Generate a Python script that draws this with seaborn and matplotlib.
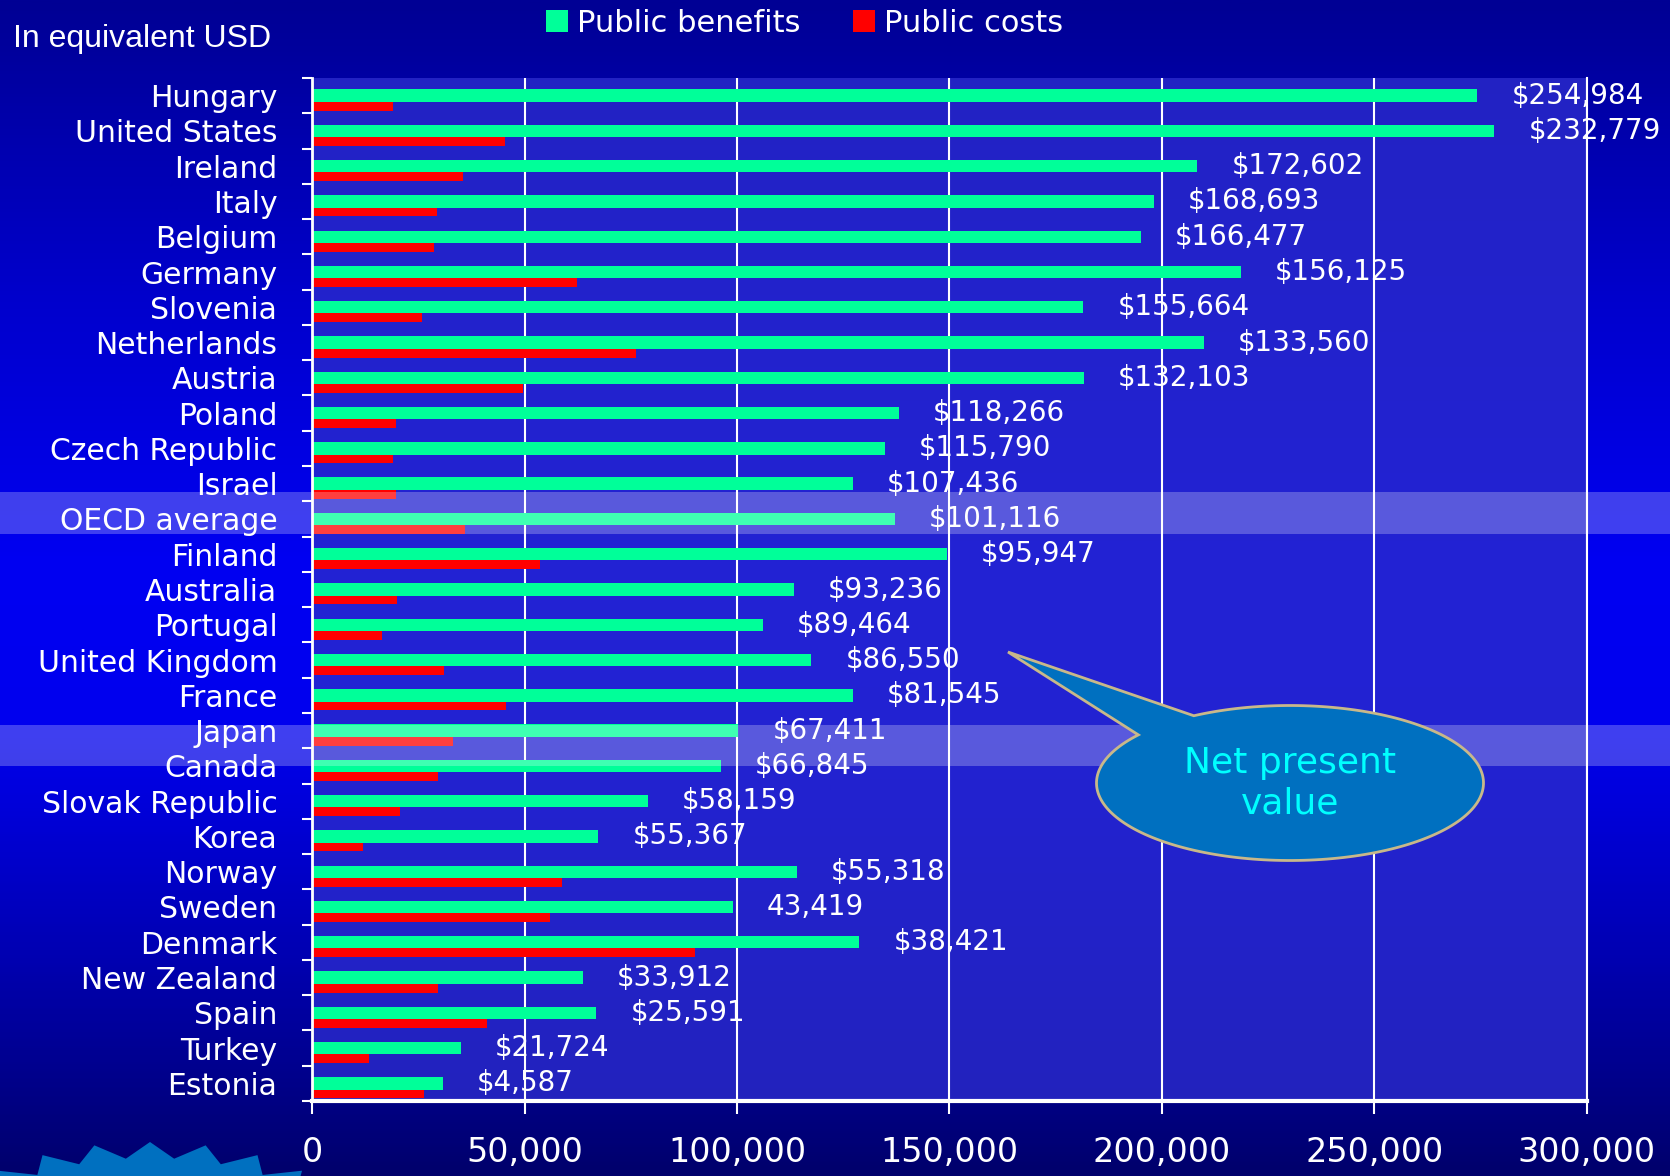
import numpy as np
import pandas as pd
import matplotlib.pyplot as plt
import seaborn as sns
from matplotlib.colors import LinearSegmentedColormap
from matplotlib.patches import Patch, Polygon, Rectangle
from matplotlib.transforms import blended_transform_factory

# values (USD)
countries = ["Hungary", "United States", "Ireland", "Italy", "Belgium", "Germany",
             "Slovenia", "Netherlands", "Austria", "Poland", "Czech Republic", "Israel",
             "OECD average", "Finland", "Australia", "Portugal", "United Kingdom", "France",
             "Japan", "Canada", "Slovak Republic", "Korea", "Norway", "Sweden", "Denmark",
             "New Zealand", "Spain", "Turkey", "Estonia"]
benefits = [274200, 278200, 208300, 198000, 195000, 218500, 181500, 209800, 181700,
            138100, 134800, 127300, 137100, 149400, 113300, 106000, 117500, 127300,
            100300, 96200, 79000, 67400, 114000, 99000, 128800, 63700, 66900, 35100, 30800]
costs = [19000, 45400, 35600, 29300, 28600, 62400, 25800, 76200, 49600, 19800, 19000,
         19800, 36100, 53600, 20000, 16500, 31100, 45600, 33100, 29600, 20800, 12000,
         58900, 56100, 90200, 29600, 41100, 13300, 26300]
npv_labels = ["$254,984", "$232,779", "$172,602", "$168,693", "$166,477", "$156,125",
              "$155,664", "$133,560", "$132,103", "$118,266", "$115,790", "$107,436",
              "$101,116", "$95,947", "$93,236", "$89,464", "$86,550", "$81,545",
              "$67,411", "$66,845", "$58,159", "$55,367", "$55,318", "43,419",
              "$38,421", "$33,912", "$25,591", "$21,724", "$4,587"]
highlight = {"OECD average": -0.75, "Japan": -0.17}

x_ticks = [0, 50000, 100000, 150000, 200000, 250000, 300000]

GREEN = "#00FF99"
RED = "#FF0000"

df = pd.DataFrame({"country": countries, "benefits": benefits, "costs": costs})
df["pos"] = np.arange(len(df))
df["pos_cost"] = df["pos"] + 0.30

sns.set_theme(style="white")
plt.rcParams["font.family"] = ["DejaVu Sans"]

W, H = 1670, 1176
fig = plt.figure(figsize=(W / 100, H / 100), dpi=100)

# slide background gradient
bg = fig.add_axes([0, 0, 1, 1], zorder=-10)
bg.axis("off")
cmap = LinearSegmentedColormap.from_list("slide", [
    (0.0, "#000094"), (0.25, "#0000CC"), (0.48, "#0000F2"),
    (0.62, "#0000EE"), (0.82, "#0000B0"), (1.0, "#00006C")])
bg.imshow(np.linspace(0, 1, 400).reshape(-1, 1), aspect="auto", cmap=cmap,
          extent=[0, 1, 0, 1], origin="upper")
bg.set_xlim(0, 1)
bg.set_ylim(0, 1)

# starburst in the bottom-left corner
ang = np.linspace(0, 2 * np.pi, 49)[:-1]
rx = np.where(np.arange(len(ang)) % 2 == 0, 215, 185)
ry = np.where(np.arange(len(ang)) % 2 == 0, 98, 82)
sx = 150 + rx * np.cos(ang)
sy = 1240 - ry * np.sin(ang)
bg.add_patch(Polygon(np.column_stack([sx / W, 1 - sy / H]), closed=True,
                     facecolor="#0070C0", edgecolor="none", transform=fig.transFigure))

ax = fig.add_axes([312 / W, 1 - 1101 / H, (1587 - 312) / W, (1101 - 78) / H])
ax.set_facecolor((0.17, 0.17, 0.80, 0.8))

sns.barplot(data=df, x="benefits", y="pos", orient="h", native_scale=True,
            width=0.35, color=GREEN, saturation=1, errorbar=None, linewidth=0, ax=ax)
sns.barplot(data=df, x="costs", y="pos_cost", orient="h", native_scale=True,
            width=0.25, color=RED, saturation=1, errorbar=None, linewidth=0, ax=ax)

n = len(df)
ax.set_ylim(n - 0.5, -0.5)
ax.set_xlim(0, 300000)
ax.set_xlabel("")
ax.set_ylabel("")

ax.set_yticks(df["pos"])
ax.set_yticklabels(countries)
ax.set_yticks(np.arange(-0.5, n, 1), minor=True)
ax.tick_params(axis="y", which="major", length=0, pad=25, labelsize=21.5, labelcolor="white")
ax.tick_params(axis="y", which="minor", left=True, length=7, width=1.5, color="white")

ax.set_xticks(x_ticks)
ax.set_xticklabels([f"{v:,}" for v in x_ticks])
ax.tick_params(axis="x", bottom=True, length=9.4, width=1.5, color="white", pad=16,
               labelsize=24, labelcolor="white")

ax.grid(axis="x", color="white", linewidth=1.5)
ax.grid(axis="y", visible=False)
ax.set_axisbelow(True)
ax.spines["top"].set_visible(False)
ax.spines["left"].set_color("white")
ax.spines["left"].set_linewidth(2)
ax.spines["bottom"].set_color("white")
ax.spines["bottom"].set_linewidth(3)
ax.spines["right"].set_color("white")
ax.spines["right"].set_linewidth(1.5)

# net present value labels
for i, (b, lab) in enumerate(zip(benefits, npv_labels)):
    ax.text(b + 8000, i, lab, color="white", fontsize=20, va="center", ha="left", zorder=6)

# highlighted rows across the whole slide
band_tr = blended_transform_factory(fig.transFigure, ax.transData)
for name, off in highlight.items():
    idx = countries.index(name)
    ax.add_patch(Rectangle((0, idx + off), 1, 1.18, transform=band_tr, clip_on=False,
                           facecolor="white", alpha=0.25, edgecolor="none", zorder=4))

# legend
handles = [Patch(facecolor=GREEN, edgecolor="none"), Patch(facecolor=RED, edgecolor="none")]
leg = fig.legend(handles, ["Public benefits", "Public costs"], ncol=2, frameon=False,
                 loc="upper left", bbox_to_anchor=(546 / W, 1 - 9 / H), borderpad=0,
                 borderaxespad=0, handlelength=0.72, handleheight=0.72,
                 handletextpad=0.3, columnspacing=1.7, fontsize=22)
for t in leg.get_texts():
    t.set_color("white")

fig.text(13 / W, 1 - 39 / H, "In equivalent USD", color="white", fontsize=23,
         family="Liberation Sans", va="center", ha="left")

# callout bubble
cx, cy, a, b = 1290, 783, 193.5, 77.5
t0 = np.deg2rad(-119.8)
t1 = np.deg2rad(-141.6 + 360)
tt = np.linspace(t0, t1, 200)
px = list(cx + a * np.cos(tt)) + [1008]
py = list(cy + b * np.sin(tt)) + [652]
fig.patches.append(Polygon(np.column_stack([np.array(px) / W, 1 - np.array(py) / H]),
                           closed=True, facecolor="#0070C0", edgecolor="#C8B88A",
                           linewidth=2, transform=fig.transFigure, zorder=8))
fig.text(cx / W, 1 - cy / H, "Net present\nvalue", color="#00FFFF", fontsize=26,
         ha="center", va="center", linespacing=1.25, zorder=9)

fig.savefig("out.png", dpi=100)
